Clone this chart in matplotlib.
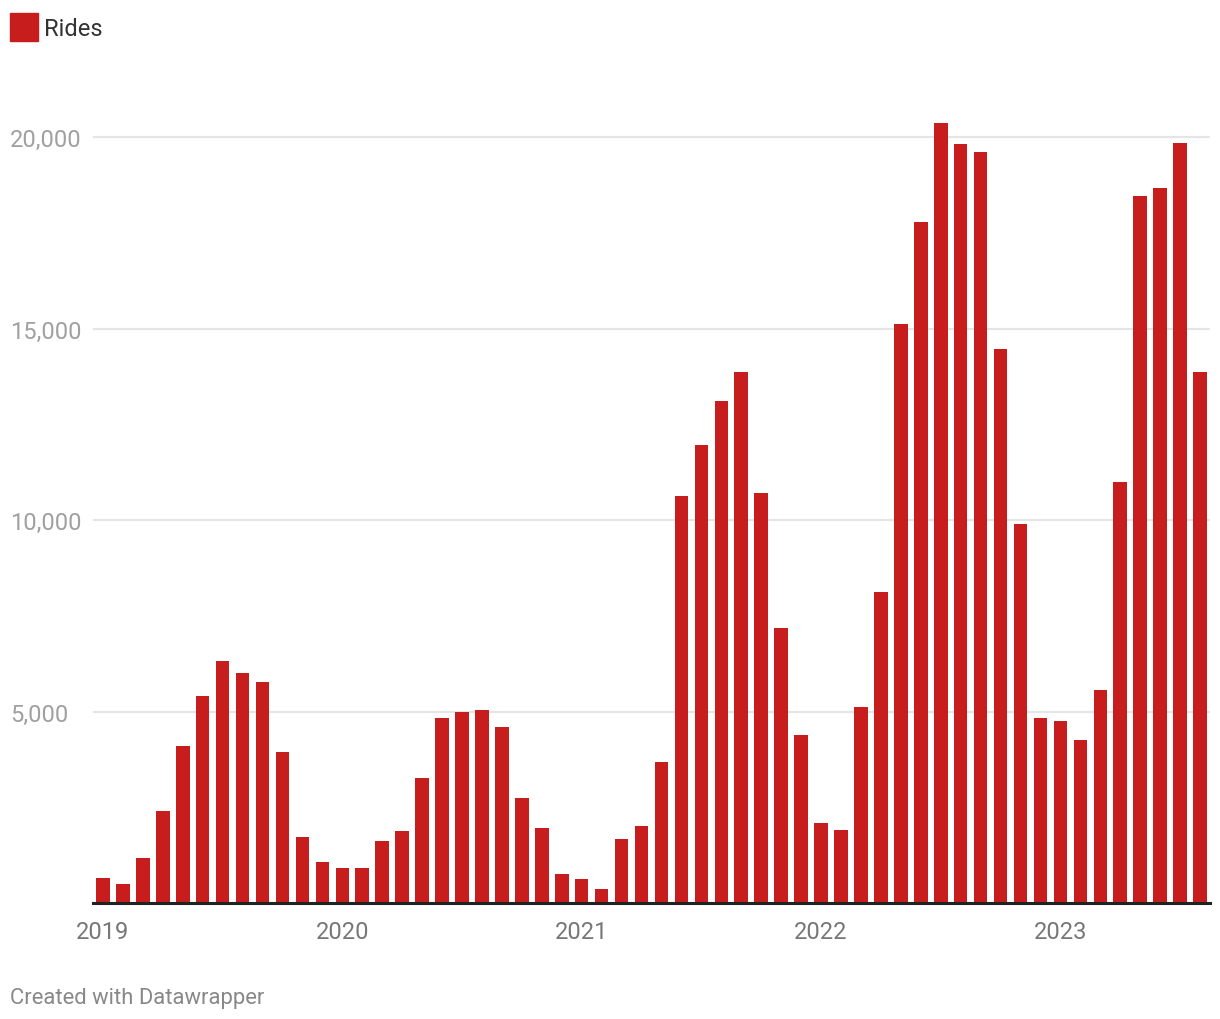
import matplotlib
matplotlib.use('Agg')
import matplotlib.pyplot as plt
from matplotlib.patches import Rectangle
from matplotlib.ticker import FuncFormatter

plt.rcParams['font.family'] = ['Roboto', 'DejaVu Sans']

years = ["2019", "2020", "2021", "2022", "2023"]
months = [f"{y}-{m:02d}" for y in years for m in range(1, 13)][:56]
rides = [
    664, 506, 1188, 2395, 4100, 5412, 6330, 6015, 5779, 3943, 1713, 1083,   # 2019
    926, 926, 1608, 1870, 3261, 4835, 4993, 5045, 4599, 2736, 1949, 769,    # 2020
    635, 370, 1680, 2020, 3670, 10640, 11950, 13100, 13880, 10700, 7190, 4400,  # 2021
    2100, 1910, 5130, 8130, 15122, 17778, 20382, 19835, 19627, 14460, 9910, 4825,  # 2022
    4745, 4260, 5560, 10990, 18455, 18663, 19861, 13870,  # 2023
]
y_ticks = [5000, 10000, 15000, 20000]
series_name = "Rides"
bar_color = "#c71e1d"

W, H = 1220, 1020
fig = plt.figure(figsize=(W / 100, H / 100), dpi=100)
ax = fig.add_axes([93 / W, 1 - 904 / H, (1210 - 93) / W, 804 / H])

x = list(range(len(months)))
ax.bar(x, rides, width=0.68, color=bar_color, zorder=3)
ax.set_xlim(-0.5, len(months) - 0.5)
ax.set_ylim(0, 21000)

for s in ['top', 'right', 'left']:
    ax.spines[s].set_visible(False)
ax.spines['bottom'].set_color('#222222')
ax.spines['bottom'].set_linewidth(2.2)
ax.spines['bottom'].set_zorder(4)

ax.set_yticks(y_ticks)
ax.yaxis.set_major_formatter(FuncFormatter(lambda v, p: f"{int(v):,}"))
ax.yaxis.grid(True, color='#e5e5e5', linewidth=1.5, zorder=0)
ax.set_axisbelow(True)
ax.tick_params(axis='y', length=0, pad=(93 - 10) * 0.72, labelsize=17, labelcolor='#a0a0a0')
for lab in ax.get_yticklabels():
    lab.set_horizontalalignment('left')

xt = [months.index(f"{y}-01") for y in years]
ax.set_xticks(xt)
ax.set_xticklabels(years)
ax.tick_params(axis='x', length=0, pad=12, labelsize=17, labelcolor='#777777')

# legend
fig.patches.append(Rectangle((10 / W, 1 - 42 / H), 28 / W, 28 / H,
                             transform=fig.transFigure, color=bar_color, figure=fig))
fig.text(44 / W, 1 - 30 / H, series_name, fontsize=17, color='#333333', va='center', ha='left')

fig.text(10 / W, 1 - 999 / H, "Created with Datawrapper", fontsize=15.8, color='#888888',
         va='center', ha='left')

fig.savefig('out.png', dpi=100, facecolor='white')
